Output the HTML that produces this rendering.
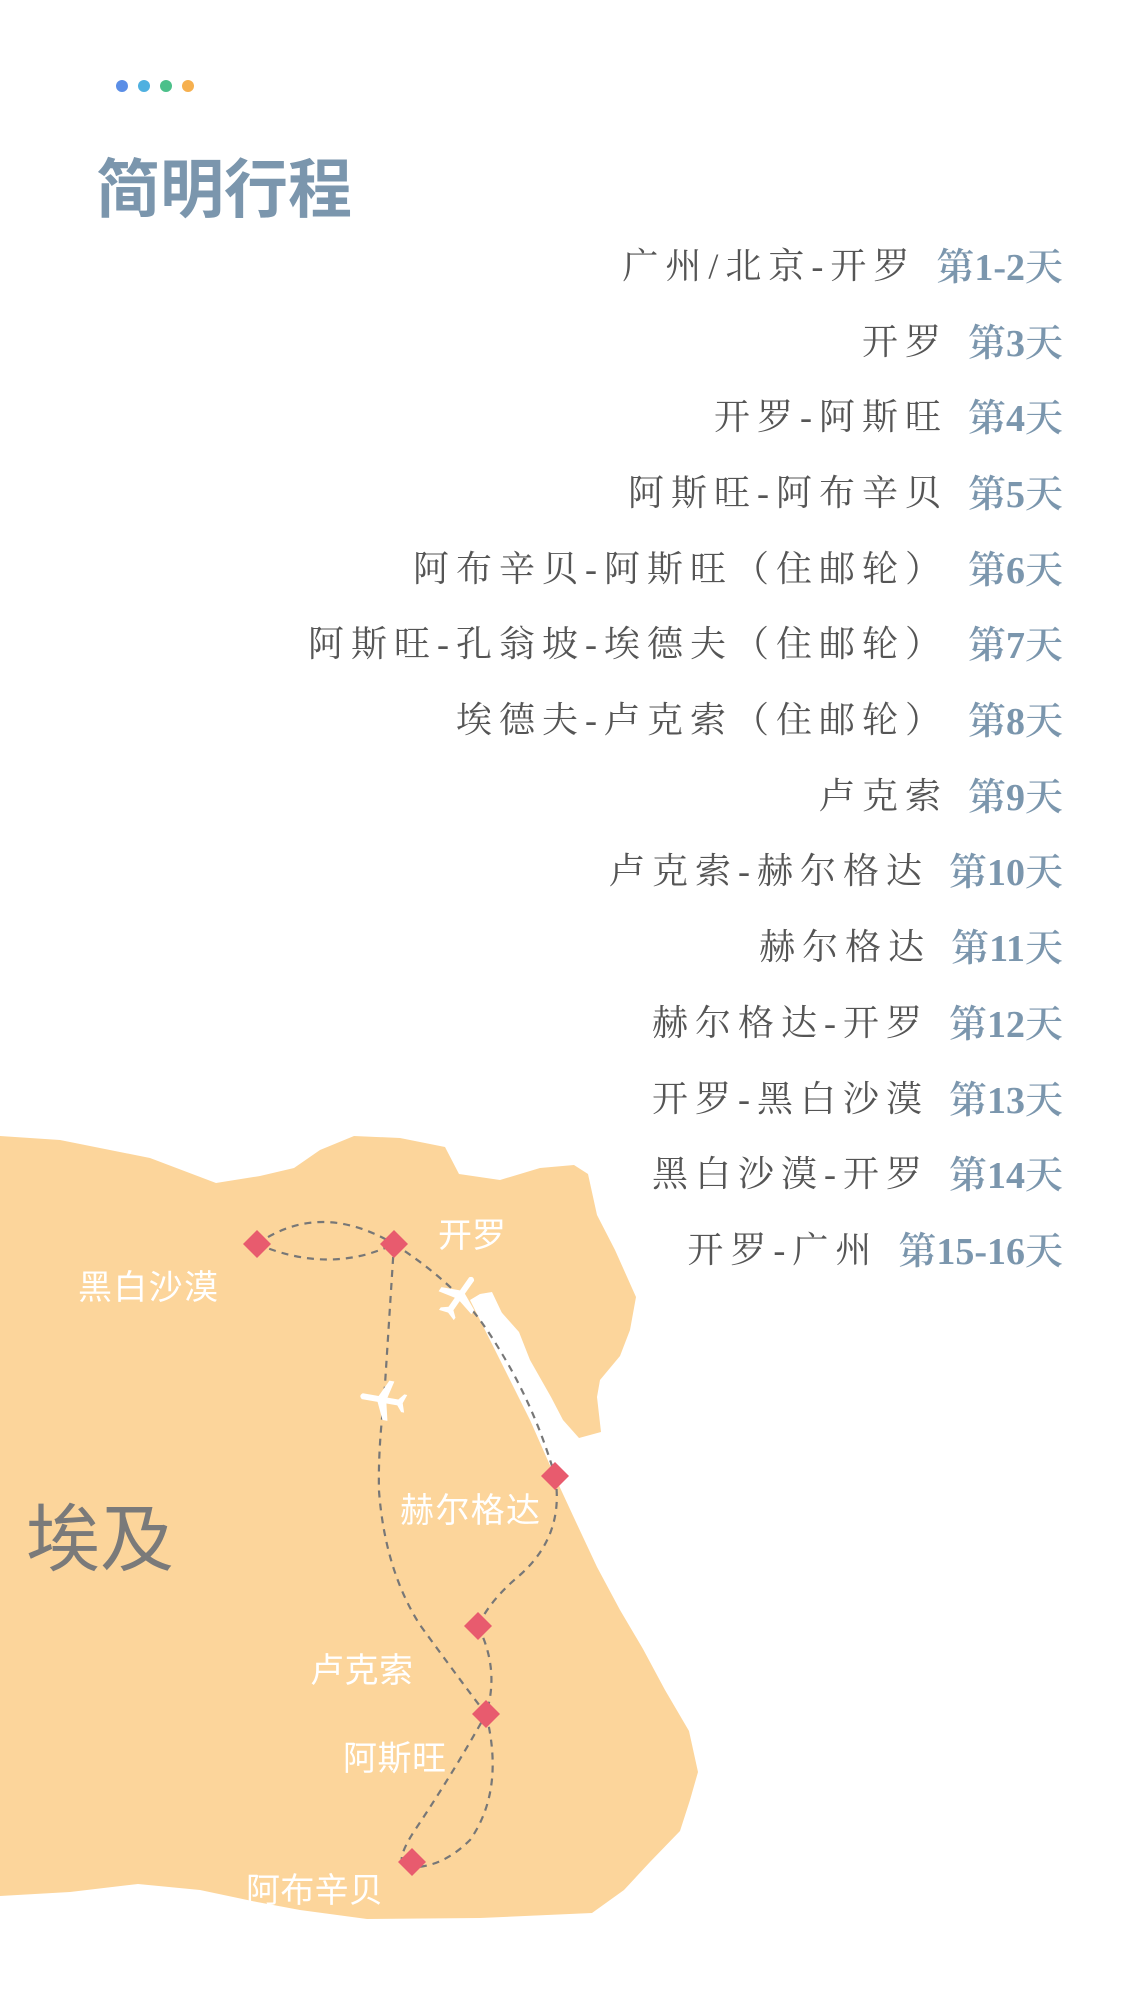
<!DOCTYPE html>
<html><head><meta charset="utf-8"><style>
html,body{margin:0;padding:0;background:#fff;}
body{width:1125px;height:2000px;position:relative;overflow:hidden;font-family:"Liberation Serif","Noto Serif CJK SC",serif;}
.dot{position:absolute;top:80px;width:12px;height:12px;border-radius:50%;}
.title{position:absolute;left:96px;top:150px;font:bold 64px "Liberation Sans","Noto Sans CJK SC",sans-serif;color:#7b96ad;letter-spacing:0px;line-height:80px;}
.row{position:absolute;right:62px;height:50px;line-height:50px;white-space:nowrap;display:flex;align-items:center;}
.g{font:36px "Liberation Serif","Noto Serif CJK SC",serif;color:#555;letter-spacing:7px;margin-right:20px;}
.b{font:600 38px "Liberation Serif","Noto Serif CJK SC",serif;color:#7b96ad;letter-spacing:0px;}
</style></head><body>
<div class="dot" style="left:116px;background:#5b8ee6"></div>
<div class="dot" style="left:138px;background:#4fb0e0"></div>
<div class="dot" style="left:160px;background:#4cc08a"></div>
<div class="dot" style="left:182px;background:#f6b04f"></div>
<div class="title">简明行程</div>

<div class="row" style="top:238px"><span class="g">广州/北京-开罗</span><span class="b">第1-2天</span></div>
<div class="row" style="top:314px"><span class="g">开罗</span><span class="b">第3天</span></div>
<div class="row" style="top:389px"><span class="g">开罗-阿斯旺</span><span class="b">第4天</span></div>
<div class="row" style="top:465px"><span class="g">阿斯旺-阿布辛贝</span><span class="b">第5天</span></div>
<div class="row" style="top:541px"><span class="g">阿布辛贝-阿斯旺（住邮轮）</span><span class="b">第6天</span></div>
<div class="row" style="top:616px"><span class="g">阿斯旺-孔翁坡-埃德夫（住邮轮）</span><span class="b">第7天</span></div>
<div class="row" style="top:692px"><span class="g">埃德夫-卢克索（住邮轮）</span><span class="b">第8天</span></div>
<div class="row" style="top:768px"><span class="g">卢克索</span><span class="b">第9天</span></div>
<div class="row" style="top:843px"><span class="g">卢克索-赫尔格达</span><span class="b">第10天</span></div>
<div class="row" style="top:919px"><span class="g">赫尔格达</span><span class="b">第11天</span></div>
<div class="row" style="top:995px"><span class="g">赫尔格达-开罗</span><span class="b">第12天</span></div>
<div class="row" style="top:1071px"><span class="g">开罗-黑白沙漠</span><span class="b">第13天</span></div>
<div class="row" style="top:1146px"><span class="g">黑白沙漠-开罗</span><span class="b">第14天</span></div>
<div class="row" style="top:1222px"><span class="g">开罗-广州</span><span class="b">第15-16天</span></div>

<svg width="1125" height="2000" style="position:absolute;left:0;top:0" xmlns="http://www.w3.org/2000/svg">
<path fill="#fcd59b" d="M0,1136 L60,1140 L150,1158 L216,1183 L260,1176 L294,1168 L320,1150 L354,1136 L400,1138 L445,1147 L459,1174 L500,1180 L540,1168 L574,1165 L588,1174 L597,1215 L615,1250 L636,1297 L630,1330 L620,1356 L600,1380 L597,1397 L601,1432 L579,1438 L563,1420 L551,1397 L530,1360 L519,1332 L495,1305 L480,1294 L470,1300 L500,1360 L530,1420 L556,1479 L575,1520 L597,1567 L620,1610 L643,1649 L665,1690 L689,1731 L698,1772 L690,1800 L680,1831 L650,1862 L624,1890 L592,1913 L480,1918 L367,1919 L300,1910 L257,1902 L200,1890 L138,1884 L70,1892 L0,1896 Z"/>
<g fill="none" stroke="#777" stroke-width="2.2" stroke-dasharray="7,6">
<path d="M257,1244 Q320,1200 394,1244"/>
<path d="M257,1244 Q330,1275 394,1244"/>
<path d="M394,1244 Q450,1280 480,1320 Q530,1390 555,1476"/>
<path d="M394,1244 L384,1400 Q378,1450 379,1491 Q385,1570 420,1625 Q460,1680 486,1714"/>
<path d="M555,1476 Q565,1535 520,1575 Q490,1600 478,1626"/>
<path d="M478,1626 Q500,1670 486,1714"/>
<path d="M486,1714 Q505,1790 470,1840 Q440,1870 405,1867 Q395,1860 415,1830 Q455,1770 486,1714"/>
</g>
<g fill="#e85b6e">
<path d="M257,1230 L271,1244 L257,1258 L243,1244Z"/>
<path d="M394,1230 L408,1244 L394,1258 L380,1244Z"/>
<path d="M555,1462 L569,1476 L555,1490 L541,1476Z"/>
<path d="M478,1612 L492,1626 L478,1640 L464,1626Z"/>
<path d="M486,1700 L500,1714 L486,1728 L472,1714Z"/>
<path d="M412,1848 L426,1862 L412,1876 L398,1862Z"/>
</g>
<g fill="#fff">
<path d="M480,1294 L492,1292 L510,1330 L545,1400 L556,1425 L548,1430 L525,1390 L495,1340 Z"/>
<g transform="translate(459,1297) rotate(35)"><path d="M-3,-22 Q0,-26 3,-22 L3,-6 L20,2 L20,7 L3,3 L3,14 L9,19 L9,22 L0,19 L-9,22 L-9,19 L-3,14 L-3,3 L-20,7 L-20,2 L-3,-6Z"/></g>
<g transform="translate(384,1400) rotate(-80)"><path d="M-3,-22 Q0,-26 3,-22 L3,-6 L20,2 L20,7 L3,3 L3,14 L9,19 L9,22 L0,19 L-9,22 L-9,19 L-3,14 L-3,3 L-20,7 L-20,2 L-3,-6Z"/></g>
</g>
<g font-family="Liberation Sans, Noto Sans CJK SC, sans-serif" fill="#fff" font-size="34">
<text x="438" y="1247">开罗</text>
<text x="78" y="1299" textLength="140">黑白沙漠</text>
<text x="400" y="1522" textLength="140">赫尔格达</text>
<text x="310" y="1682" textLength="103">卢克索</text>
<text x="343" y="1770" textLength="103">阿斯旺</text>
<text x="246" y="1902" textLength="137">阿布辛贝</text>
</g>
<text x="26" y="1565" font-family="Liberation Sans, Noto Sans CJK SC, sans-serif" font-size="74" fill="#7a7a7a">埃及</text>
</svg>
</body></html>
